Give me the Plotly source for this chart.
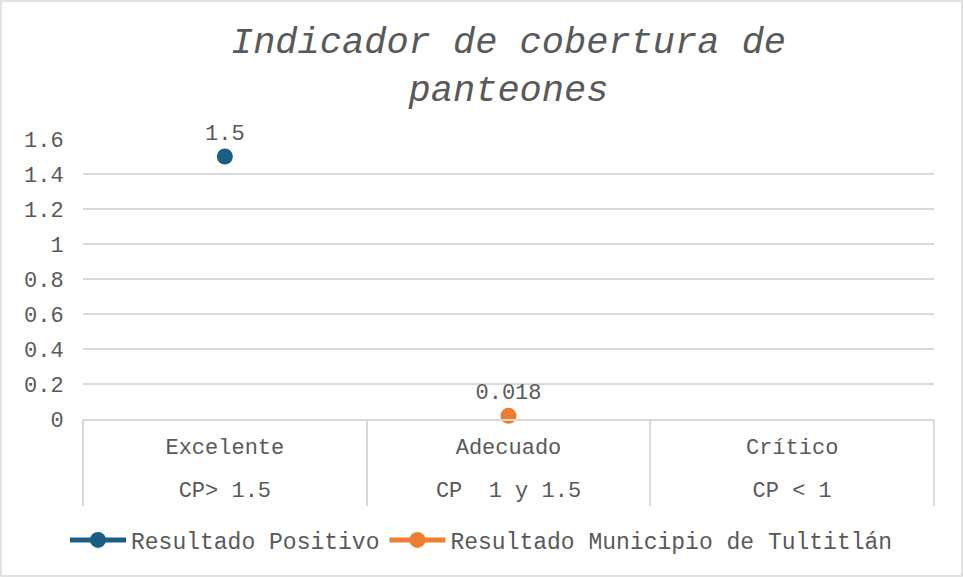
import plotly.graph_objects as go

categories = ["Excelente", "Adecuado", "Crítico"]
ranges = ["CP> 1.5", "CP  1 y 1.5", "CP < 1"]
positivo = [1.5, None, None]
tultitlan = [None, 0.018, None]
labels_pos = ["1.5", "", ""]
labels_tul = ["", "0.018", ""]
y_ticks = [0, 0.2, 0.4, 0.6, 0.8, 1, 1.2, 1.4, 1.6]
y_ticktext = ["0", "0.2", "0.4", "0.6", "0.8", "1", "1.2", "1.4", "1.6"]

FONT = "Liberation Mono, Courier New, monospace"
GREY = "#595959"
LINE = "#d9d9d9"
W, H = 963, 577
ML, MR, MT, MB = 83, 29, 139, 158

n = len(categories)
cat_pos = list(range(n))
bounds = [i - 0.5 for i in range(n + 1)]
xr = [-0.5, n - 0.5]

fig = go.Figure()
fig.add_trace(go.Scatter(
    x=categories, y=positivo, name="Resultado Positivo", mode="lines+markers+text",
    text=labels_pos, textposition="top center",
    textfont=dict(family=FONT, size=22, color=GREY),
    marker=dict(size=16, color="#1b5e82"), line=dict(color="#1b5e82", width=5),
    cliponaxis=False,
))
fig.add_trace(go.Scatter(
    x=categories, y=tultitlan, name="Resultado Municipio de Tultitlán", mode="lines+markers+text",
    text=labels_tul, textposition="top center",
    textfont=dict(family=FONT, size=22, color=GREY),
    marker=dict(size=16, color="#ed7d31"), line=dict(color="#ed7d31", width=5),
    cliponaxis=False,
))
# empty helper traces so the overlaid label/divider axes are drawn
for ax in ("x2", "x3"):
    fig.add_trace(go.Scatter(x=[None], y=[None], xaxis=ax, yaxis="y",
                             showlegend=False, hoverinfo="skip", mode="markers"))

pw = W - ML - MR
ph = H - MT - MB
fig.add_shape(type="rect", xref="paper", yref="paper",
              x0=-(ML - 1) / pw, x1=1 + (MR - 1) / pw,
              y0=-(MB - 1) / ph, y1=1 + (MT - 1) / ph,
              line=dict(color=LINE, width=1.5), fillcolor="rgba(0,0,0,0)", layer="below")

fig.update_layout(
    width=W, height=H,
    margin=dict(l=ML, r=MR, t=MT, b=MB, autoexpand=False),
    paper_bgcolor="white", plot_bgcolor="white",
    font=dict(family=FONT, color=GREY, size=22),
    title=dict(text="Indicador de cobertura de<br>panteones", x=0.5, xref="paper",
               y=1 - 53 / H, yanchor="middle",
               font=dict(family=FONT, size=37, color=GREY, style="italic")),
    showlegend=True,
    legend=dict(orientation="h", xref="container", yref="container",
                x=0.5, xanchor="center", y=1 - 540 / H, yanchor="middle",
                font=dict(family=FONT, size=23, color=GREY), itemwidth=56,
                bgcolor="rgba(0,0,0,0)", traceorder="normal"),
    xaxis=dict(type="category", categoryorder="array", categoryarray=categories,
               range=xr, showgrid=False, showline=True, linecolor=LINE,
               linewidth=1.5, ticks="", ticklabelstandoff=7, automargin=False,
               tickfont=dict(family=FONT, size=22, color=GREY)),
    xaxis2=dict(overlaying="x", anchor="y", side="bottom", range=xr,
                tickmode="array", tickvals=cat_pos, ticktext=ranges,
                showgrid=False, showline=False, zeroline=False, ticks="",
                ticklabelstandoff=55, automargin=False,
                tickfont=dict(family=FONT, size=22, color=GREY)),
    xaxis3=dict(overlaying="x", anchor="y", side="bottom", range=xr,
                tickmode="array", tickvals=bounds, showticklabels=False,
                showgrid=False, showline=False, zeroline=False,
                ticks="outside", ticklen=86, tickcolor=LINE, tickwidth=1.5,
                automargin=False),
    yaxis=dict(range=[0, 1.6], tickvals=y_ticks, ticktext=y_ticktext, showgrid=True,
               gridcolor=LINE, gridwidth=1.5, zeroline=False, showline=False,
               ticks="outside", ticklen=14, tickcolor="rgba(0,0,0,0)", automargin=False,
               tickfont=dict(family=FONT, size=22, color=GREY)),
)

fig.write_html("out.html", config={"displayModeBar": False},
               post_script="document.body.style.margin='0';")
